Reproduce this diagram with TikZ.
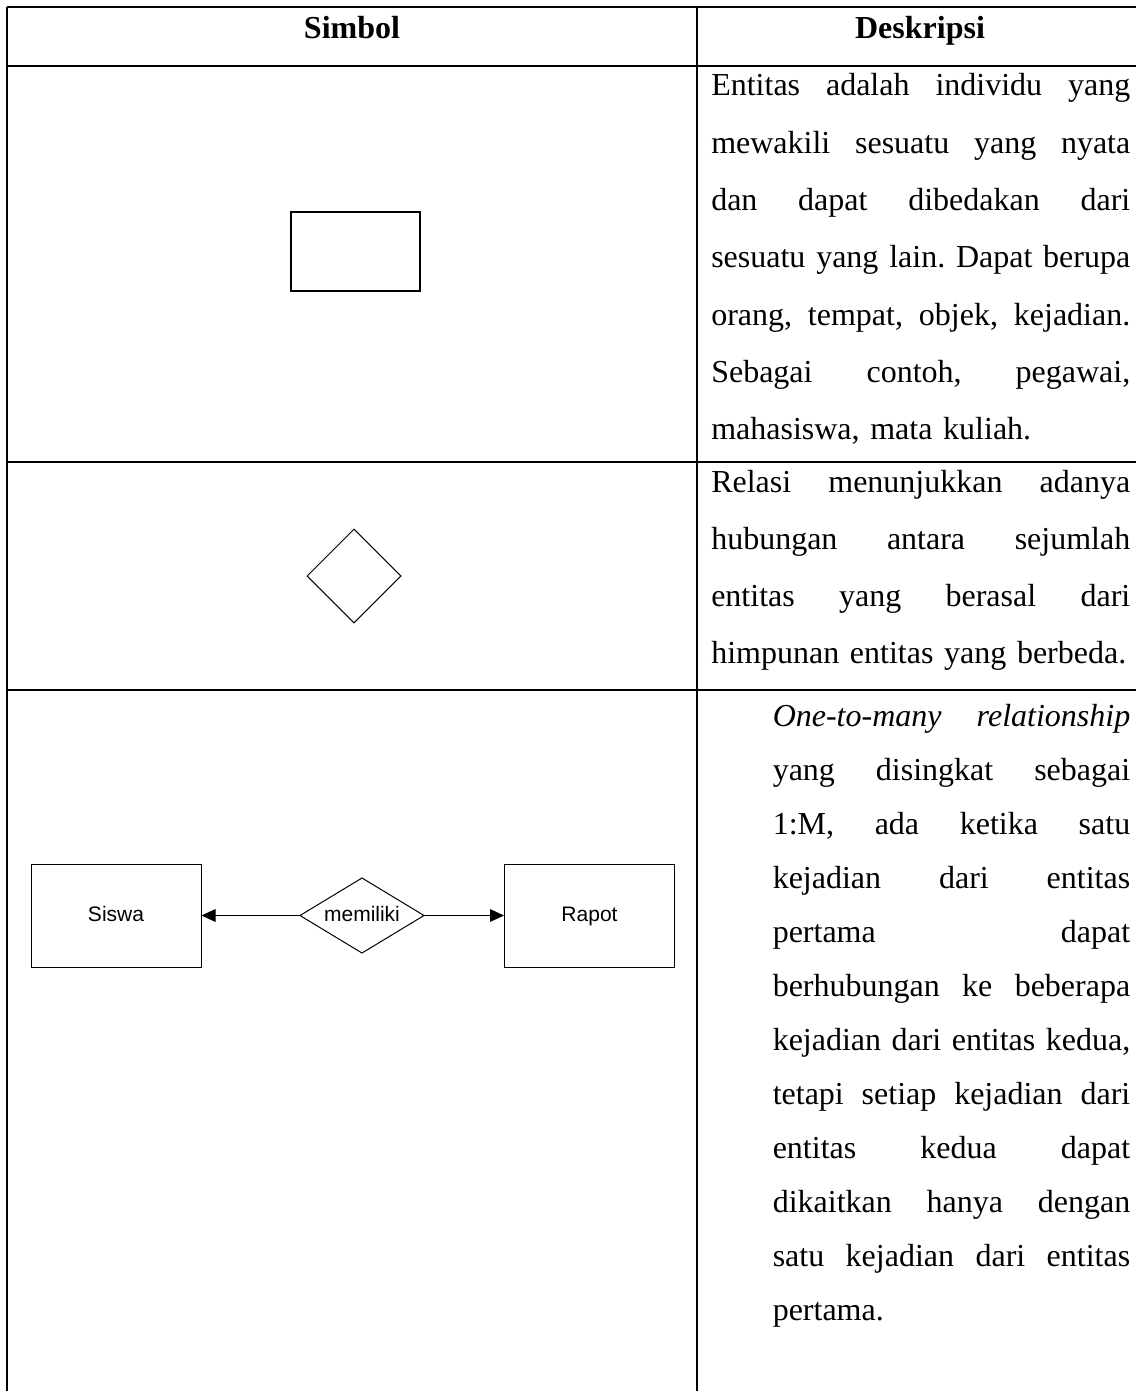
\documentclass[tikz,border=0pt]{standalone}
\usepackage{fontspec}
\setmainfont{Liberation Serif}
\newfontfamily\erfont{Liberation Sans}
\usetikzlibrary{arrows.meta,shapes.geometric}
\newcommand\jline[2]{{\spaceskip=0.25em plus 5em\relax\makebox[#1][s]{#2}}}
\begin{document}
\frenchspacing
\begin{tikzpicture}[x=0.75pt,y=-0.75pt,
  tline/.style={line width=1.4pt},
  hline/.style={line width=2.2pt},
  head/.style={anchor=base,inner sep=0pt,font=\bfseries\fontsize{24}{28}\selectfont},
  descA/.style={anchor=base west,inner sep=0pt,text width=314.25pt,align=left,font=\fontsize{24}{42.98}\selectfont},
  descB/.style={anchor=base west,inner sep=0pt,text width=314.25pt,align=left,font=\fontsize{24}{42.75}\selectfont},
  descC/.style={anchor=base west,inner sep=0pt,text width=268.1pt,align=left,font=\fontsize{24}{40.5}\selectfont},
  erbox/.style={draw,line width=0.75pt,minimum width=127.5pt,minimum height=77.25pt,inner sep=0pt,text height=11.5pt,text depth=3.2pt,font=\erfont\fontsize{15.75}{18}\selectfont},
  erlabel/.style={inner sep=0pt,text height=11.5pt,text depth=3.2pt,font=\erfont\fontsize{15.75}{18}\selectfont},
  erarrow/.style={line width=0.75pt,-{Triangle[length=10.5pt,width=9.5pt]}}
]
\useasboundingbox (0,0) rectangle (1136,1391);
% table grid
\draw[tline] (7,7) -- (1136,7);
\draw[tline] (7,7) -- (7,1391);
\draw[tline] (697,7) -- (697,1391);
\draw[hline] (7,66) -- (1136,66);
\draw[tline] (7,462) -- (1136,462);
\draw[tline] (7,690) -- (1136,690);
% header
\node[head] (hsimbol) at (352,39) {Simbol};
\node[head] (hdesk) at (920,39) {Deskripsi};
% row 1
\node[draw,line width=1.1pt,minimum width=96.75pt,minimum height=59.25pt,inner sep=0pt] (entsym) at (355.5,251.5) {};
\node[descA] (desc1) at (711,96) {\jline{314.25pt}{Entitas adalah individu yang}\\
\jline{314.25pt}{mewakili sesuatu yang nyata}\\
\jline{314.25pt}{dan dapat dibedakan dari}\\
\jline{314.25pt}{sesuatu yang lain. Dapat berupa}\\
\jline{314.25pt}{orang, tempat, objek, kejadian.}\\
\jline{314.25pt}{Sebagai contoh, pegawai,}\\
mahasiswa, mata kuliah.};
% row 2
\node[draw,diamond,line width=0.75pt,minimum width=70.5pt,minimum height=70.5pt,inner sep=0pt] (relsym) at (354,576) {};
\node[descB] (desc2) at (711,492) {\jline{314.25pt}{Relasi menunjukkan adanya}\\
\jline{314.25pt}{hubungan antara sejumlah}\\
\jline{314.25pt}{entitas yang berasal dari}\\
himpunan entitas yang berbeda.};
% row 3
\node[erbox] (siswa) at (116,915.5) {Siswa};
\node[erbox] (rapot) at (589.5,915.5) {Rapot};
\node[erlabel] (rel) at (362,915.5) {memiliki};
\coordinate (relL) at (300,915.5);
\coordinate (relT) at (362,878);
\coordinate (relR) at (424,915.5);
\coordinate (relB) at (362,953);
\draw[line width=0.75pt] (relL) -- (relT) -- (relR) -- (relB) -- cycle;
\draw[erarrow] (relL) -- (siswa.east);
\draw[erarrow] (relR) -- (rapot.west);
\node[descC] (desc3) at (772.5,726) {\jline{268.1pt}{\itshape One-to-many relationship}\\
\jline{268.1pt}{yang disingkat sebagai}\\
\jline{268.1pt}{1:M, ada ketika satu}\\
\jline{268.1pt}{kejadian dari entitas}\\
\jline{268.1pt}{pertama dapat}\\
\jline{268.1pt}{berhubungan ke beberapa}\\
\jline{268.1pt}{kejadian dari entitas kedua,}\\
\jline{268.1pt}{tetapi setiap kejadian dari}\\
\jline{268.1pt}{entitas kedua dapat}\\
\jline{268.1pt}{dikaitkan hanya dengan}\\
\jline{268.1pt}{satu kejadian dari entitas}\\
pertama.};
\end{tikzpicture}
\end{document}
